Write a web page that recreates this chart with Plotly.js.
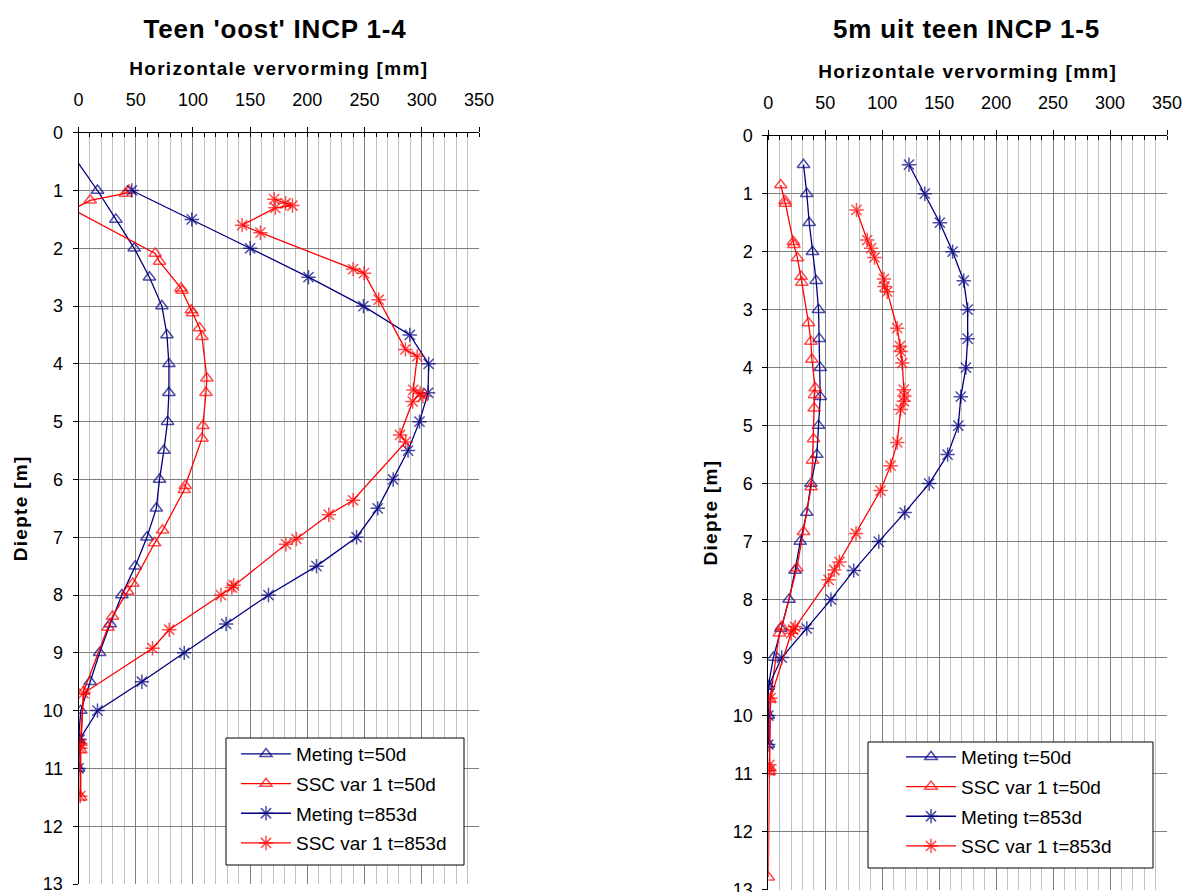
<!DOCTYPE html>
<html>
<head>
<meta charset="utf-8">
<script src="https://cdn.plot.ly/plotly-3.0.1.min.js"></script>
<style>
html,body{margin:0;padding:0;background:#fff;}
#chart{width:1184px;height:892px;}
#chart .gtitle, #chart .annotation-text{letter-spacing:0.8px;}
#chart .xtitle, #chart .x2title, #chart .ytitle, #chart .y2title{letter-spacing:1.3px;}
</style>
</head>
<body>
<div id="chart"></div>
<script>
// ---------- Data ----------
const seriesNames = ["Meting t=50d", "SSC var 1 t=50d", "Meting t=853d", "SSC var 1 t=853d"];
const xTickVals = [0, 50, 100, 150, 200, 250, 300, 350];
const yTickVals = [0, 1, 2, 3, 4, 5, 6, 7, 8, 9, 10, 11, 12, 13];

// Left chart: Teen 'oost' INCP 1-4  (x = horizontal deformation [mm], y = depth [m])
const L_meting50_x = [-1, 16.6, 32.7, 48.7, 62, 72.9, 77.3, 79, 79, 77.8, 74.6, 70.8, 68, 59.8, 49.6, 37.9, 27.7, 18.4, 10.2, 2, 0, 0];
const L_meting50_d = [0.5, 1.0, 1.5, 2.0, 2.5, 3.0, 3.5, 4.0, 4.5, 5.0, 5.5, 6.0, 6.5, 7.0, 7.5, 8.0, 8.5, 9.0, 9.5, 10.0, 10.5, 11.0];

const L_ssc50_x = [44, 41, 10.2, -5, 67, 70.8, 89.5, 90.4, 98.5, 99.7, 105.8, 107.9, 112.2, 111.4, 108.7, 107.9, 93.3, 92.4, 73.5, 66.5, 47.5, 42.9, 29.7, 25.7, 4.4, 2, 2, 2];
const L_ssc50_d = [1.0, 1.05, 1.17, 1.33, 2.09, 2.23, 2.69, 2.73, 3.07, 3.12, 3.38, 3.53, 4.25, 4.5, 5.07, 5.29, 6.11, 6.18, 6.88, 7.1, 7.8, 7.94, 8.37, 8.56, 9.67, 10.55, 10.68, 11.5];

const L_meting853_x = [46.6, 99, 150, 201, 249, 289.5, 306, 305.5, 298, 288, 275, 261.5, 243, 208, 166, 129, 92.4, 55.4, 16.6, 1, 0];
const L_meting853_d = [1.0, 1.5, 2.0, 2.5, 3.0, 3.5, 4.0, 4.5, 5.0, 5.5, 6.0, 6.5, 7.0, 7.5, 8.0, 8.5, 9.0, 9.5, 10.0, 10.5, 11.0];

const L_ssc853_x = [171, 181, 187, 172, 143, 159, 240, 249.5, 262.4, 285.7, 296, 292.6, 301, 298.5, 292, 281, 286, 240, 218.7, 190.4, 181.3, 135.6, 134, 124.5, 79.3, 64.7, 4.4, 1.5, 1.5, 1.5];
const L_ssc853_d = [1.15, 1.22, 1.26, 1.3, 1.6, 1.73, 2.36, 2.43, 2.89, 3.75, 3.87, 4.45, 4.56, 4.51, 4.65, 5.23, 5.35, 6.36, 6.61, 7.03, 7.12, 7.83, 7.87, 8.0, 8.6, 8.92, 9.7, 10.57, 10.65, 11.48];

// Right chart: 5m uit teen INCP 1-5
const R_meting50_x = [30.9, 33.8, 35.9, 38.8, 42, 44.1, 44.7, 45.6, 45.6, 44.1, 42.6, 37.4, 33.8, 28, 23.5, 18.2, 11, 4.4, 0, 0, 0];
const R_meting50_d = [0.5, 1.0, 1.5, 2.0, 2.5, 3.0, 3.5, 4.0, 4.5, 5.0, 5.5, 6.0, 6.5, 7.0, 7.5, 8.0, 8.5, 9.0, 9.5, 10.0, 10.5];

const R_ssc50_x = [10.9, 14.7, 15, 22, 22.5, 25.6, 28.8, 29.4, 35.3, 37.4, 38.2, 41.2, 40.6, 40.3, 39.7, 38.8, 37.6, 30.9, 25, 11.8, 9.7, 1.5, 1, 1, 0];
const R_ssc50_d = [0.85, 1.12, 1.17, 1.83, 1.88, 2.11, 2.43, 2.53, 3.23, 3.55, 3.86, 4.35, 4.47, 4.7, 5.23, 5.6, 6.06, 6.83, 7.46, 8.47, 8.58, 9.72, 10.9, 10.97, 12.79];

const R_meting853_x = [123.5, 137.4, 150.6, 161.8, 171.5, 175, 175, 173.5, 169, 166.8, 157.4, 141.2, 119.7, 97, 75, 55, 33.8, 11.8, 0, 0, 0];
const R_meting853_d = [0.5, 1.0, 1.5, 2.0, 2.5, 3.0, 3.5, 4.0, 4.5, 5.0, 5.5, 6.0, 6.5, 7.0, 7.5, 8.0, 8.5, 9.0, 9.5, 10.0, 10.5];

const R_ssc853_x = [77.4, 86.8, 90.3, 93.2, 101.5, 102, 104.4, 113.2, 115.6, 116.2, 117.6, 119, 119.5, 119, 116.2, 113.2, 107.4, 98.5, 77, 62.4, 58, 52.9, 23.5, 22, 20, 2, 1, 1];
const R_ssc853_d = [1.28, 1.8, 1.94, 2.1, 2.47, 2.6, 2.69, 3.32, 3.63, 3.72, 3.92, 4.38, 4.49, 4.58, 4.72, 5.29, 5.69, 6.12, 6.86, 7.35, 7.49, 7.66, 8.47, 8.52, 8.58, 9.7, 10.85, 10.95];

// ---------- Styling ----------
const FONT = "Liberation Sans, Arial, Helvetica, sans-serif";
const NAVY = "#000080";
const RED = "#FF0000";
const styles = [
  {color: NAVY, symbol: "triangle-up-open", size: 11},
  {color: RED, symbol: "triangle-up-open", size: 11},
  {color: NAVY, symbol: "asterisk-open", size: 12},
  {color: RED, symbol: "asterisk-open", size: 12}
];

function mkTrace(i, xs, ds, xa, ya, legendId) {
  const s = styles[i];
  // points outside the axis (negative deformation) are drawn without a marker
  const sizes = xs.map(v => v < 0 ? 0 : s.size);
  return {
    type: "scatter", mode: "lines+markers",
    name: seriesNames[i], x: xs, y: ds, xaxis: xa, yaxis: ya,
    legend: legendId, legendgroup: legendId + "_" + i, showlegend: true,
    line: {color: s.color, width: 1.3},
    marker: {symbol: s.symbol, size: sizes, color: s.color, line: {color: s.color, width: 1.5}},
    cliponaxis: true
  };
}

const data = [
  mkTrace(0, L_meting50_x, L_meting50_d, "x", "y", "legend"),
  mkTrace(1, L_ssc50_x, L_ssc50_d, "x", "y", "legend"),
  mkTrace(2, L_meting853_x, L_meting853_d, "x", "y", "legend"),
  mkTrace(3, L_ssc853_x, L_ssc853_d, "x", "y", "legend"),
  mkTrace(0, R_meting50_x, R_meting50_d, "x2", "y2", "legend2"),
  mkTrace(1, R_ssc50_x, R_ssc50_d, "x2", "y2", "legend2"),
  mkTrace(2, R_meting853_x, R_meting853_d, "x2", "y2", "legend2"),
  mkTrace(3, R_ssc853_x, R_ssc853_d, "x2", "y2", "legend2")
];

const W = 1184, H = 892;
const titleFont = {family: FONT, size: 19, color: "#000", weight: 700};
function xAxis(domain, anchor) {
  return {
    domain: domain, anchor: anchor, side: "top", range: [0, 350],
    tickmode: "array", tickvals: xTickVals, ticktext: xTickVals.map(String),
    ticks: "outside", ticklen: 5, tickcolor: "#000", tickwidth: 1,
    ticklabelstandoff: 14, ticklabeloverflow: "allow",
    tickfont: {family: FONT, size: 18, color: "#000"},
    showline: true, linecolor: "#000", linewidth: 1,
    showgrid: true, gridcolor: "#808080", gridwidth: 1, zeroline: false,
    minor: {dtick: 10, tick0: 0, showgrid: true, gridcolor: "#c0c0c0", gridwidth: 1, ticks: "inside", ticklen: 4, tickcolor: "#000"},
    title: {text: "Horizontale vervorming [mm]", font: titleFont, standoff: 8},
    fixedrange: true
  };
}
function yAxis(domain, anchor) {
  return {
    domain: domain, anchor: anchor, range: [13, 0],
    tickmode: "array", tickvals: yTickVals, ticktext: yTickVals.map(String),
    ticks: "outside", ticklen: 5, tickcolor: "#000",
    ticklabelstandoff: 6, ticklabeloverflow: "allow",
    tickfont: {family: FONT, size: 18, color: "#000"},
    showline: true, linecolor: "#000", linewidth: 1,
    showgrid: true, gridcolor: "#808080", gridwidth: 1, zeroline: false,
    title: {text: "Diepte [m]", font: titleFont, standoff: 10},
    fixedrange: true
  };
}
function legendAt(xpx, ypx) {
  return {
    x: xpx / W, y: 1 - ypx / H, xanchor: "left", yanchor: "top",
    xref: "paper", yref: "paper",
    bgcolor: "rgba(0,0,0,0)", borderwidth: 0,
    font: {family: FONT, size: 19, color: "#000"},
    itemwidth: 50, tracegroupgap: 2
  };
}
// legend frames (white box with black border, drawn above the data like the original)
function frame(x0, y0, x1, y1) {
  return {type: "rect", xref: "paper", yref: "paper", layer: "above",
          x0: x0 / W, x1: x1 / W, y0: 1 - y1 / H, y1: 1 - y0 / H,
          fillcolor: "#fff", line: {color: "#000", width: 1}};
}

const layout = {
  width: W, height: H,
  margin: {l: 0, r: 0, t: 0, b: 0},
  paper_bgcolor: "#fff", plot_bgcolor: "#fff",
  font: {family: FONT, color: "#000"},
  title: {text: "Teen 'oost' INCP 1-4", x: 275 / W, xanchor: "center", xref: "paper",
          y: 1 - 29 / H, yanchor: "middle", yref: "paper",
          font: {family: FONT, size: 26, color: "#000", weight: 700}},
  annotations: [{text: "5m uit teen INCP 1-5", x: 966 / W, y: 1 - 29 / H, xref: "paper", yref: "paper",
                 xanchor: "center", yanchor: "middle", showarrow: false,
                 font: {family: FONT, size: 26, color: "#000", weight: 700}}],
  xaxis: xAxis([78.5 / W, 479 / W], "y"),
  yaxis: yAxis([1 - 884 / H, 1 - 132.7 / H], "x"),
  xaxis2: xAxis([768.3 / W, 1167 / W], "y2"),
  yaxis2: yAxis([1 - 889.5 / H, 1 - 135.7 / H], "x2"),
  shapes: [frame(226, 738, 464, 865), frame(868, 742, 1153, 868)],
  legend: legendAt(236, 735),
  legend2: legendAt(901, 738),
  showlegend: true
};

Plotly.newPlot("chart", data, layout, {displayModeBar: false, staticPlot: true});
</script>
</body>
</html>
